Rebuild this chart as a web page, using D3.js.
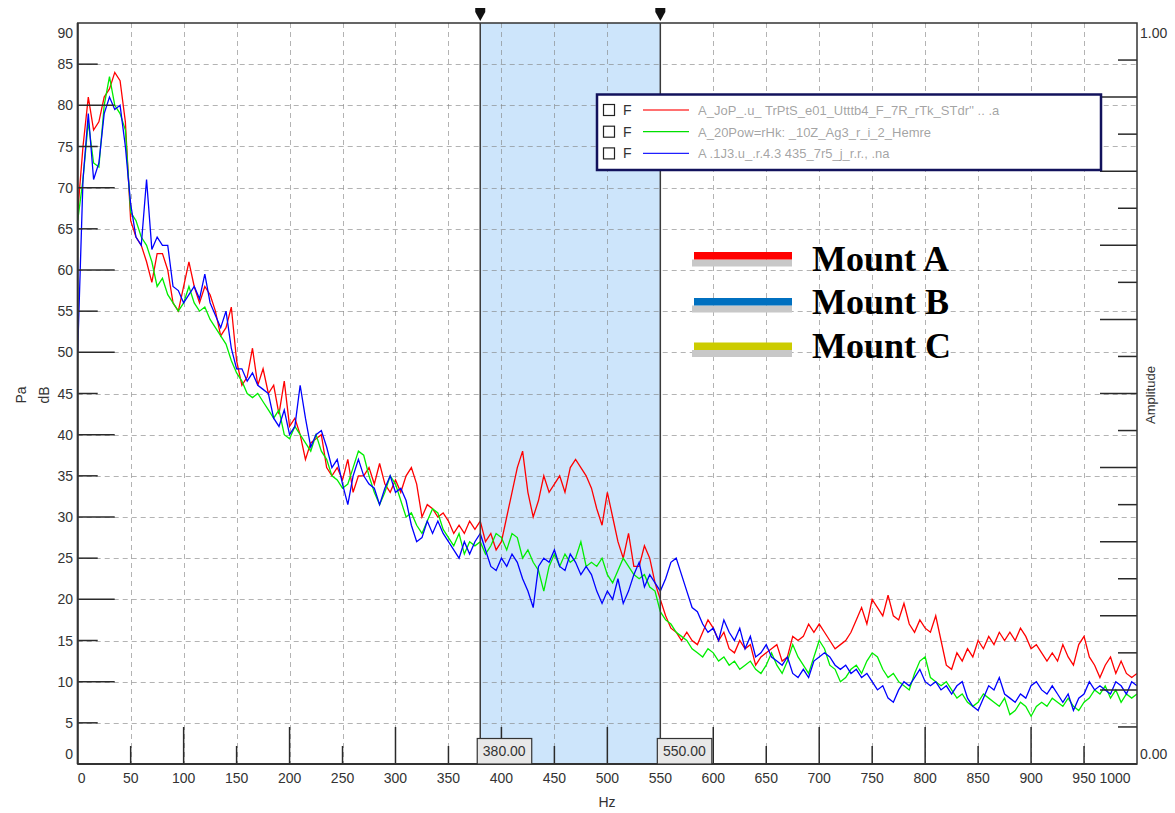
<!DOCTYPE html>
<html>
<head>
<meta charset="utf-8">
<script src="https://cdn.jsdelivr.net/npm/d3@7"></script>
<style>
body { margin: 0; background: #fff; }
svg { display: block; font-family: "Liberation Sans", Arial, sans-serif; }
</style>
</head>
<body>
<div id="chart"></div>
<script>
// page size and plot frame
let svg_width = 1175;
let svg_height = 813;
let plot_left = 77.7, plot_right = 1137, plot_top = 23, plot_bottom = 764;

// tick values
const hzTicks = [0, 50, 100, 150, 200, 250, 300, 350, 400, 450, 500, 550, 600, 650, 700, 750, 800, 850, 900, 950, 1000];
const dbTicks = [0, 5, 10, 15, 20, 25, 30, 35, 40, 45, 50, 55, 60, 65, 70, 75, 80, 85, 90];
const ampTicks = [0, 0.05, 0.1, 0.15, 0.2, 0.25, 0.3, 0.35, 0.4, 0.45, 0.5, 0.55, 0.6, 0.65, 0.7, 0.75, 0.8, 0.85, 0.9, 0.95, 1];
const ampLabels = ["0.00", "1.00"];

// cursors
const cursorHz = [380, 550];
const cursorLabels = ["380.00", "550.00"];

// spectra, one value every 5 Hz from 0 to 1000 Hz (dB)
const hzStep = 5;
const traceRed = [
  67, 75, 81, 77, 78, 81, 82, 84, 83, 78, 66, 64, 63, 61, 58.5, 62, 62, 60, 56, 55,
  58, 61, 58, 56, 58, 57, 55, 52, 53, 55.5, 49, 46, 47, 50.5, 46, 48, 45, 46, 42.5, 46.5,
  41, 42, 40, 37, 39, 39.5, 40, 36, 35, 36, 34.5, 37, 33, 35, 35, 36, 34, 36.5, 34, 33,
  34.5, 33, 35, 36, 34, 30, 31.5, 31, 30, 30.5, 29.5, 28, 29, 28, 29.5, 28.5, 29.5, 27, 28, 26,
  27, 30, 33, 36, 38, 33, 30, 32, 35, 33, 34, 35, 33, 36, 37, 36, 35, 33.5, 31, 29,
  33, 30, 27, 25, 28, 24, 24, 26.5, 25, 22, 20, 18, 16.5, 16, 15, 16, 15, 14.5, 16, 17.5,
  16.5, 15, 16, 14, 13.5, 15, 14, 14.5, 12, 13, 13.5, 14, 14.5, 12.5, 13, 15.5, 15, 15.5, 17, 16,
  17, 16, 15, 14, 14.5, 15, 16, 17.5, 19, 17, 20, 19, 18, 20.5, 18, 17.5, 19.5, 17, 16, 17.5,
  16.5, 16, 18, 15, 12, 11.5, 13.5, 12.5, 14, 13, 15, 14, 15.5, 14.5, 16, 15, 16, 15, 16.5, 15.5,
  14, 14.5, 13.5, 12.5, 13.5, 12.5, 14.5, 13, 12, 14.5, 15.5, 13, 12, 10.5, 12, 13, 11, 12.5, 11, 10.5,
  11
];
const traceGreen = [
  66, 71, 78, 73, 72.5, 80, 83.5, 80, 79, 77, 67, 66, 64, 63, 61, 58, 59, 57, 56, 55,
  56, 58, 56, 55, 55.5, 54, 53, 52, 51, 49, 47.5, 46.5, 45, 44.5, 45, 44, 43, 42, 43, 40,
  39.5, 41, 40, 39, 38, 40, 38, 37, 35, 34.5, 33.5, 34, 36, 38, 37.5, 35, 33, 31.5, 33, 35,
  34, 32, 30, 30.5, 29, 28, 29.5, 31, 30.5, 28.5, 27.5, 26.5, 28, 25.5, 27, 26.5, 27, 25.5, 26.5, 28,
  27.5, 26, 28, 27.5, 25, 26, 24.5, 23.5, 21, 24, 25.5, 24, 25.5, 24.5, 25, 27, 24, 24.5, 24, 25,
  23, 22, 23.5, 25, 24, 23, 22.5, 23, 21.5, 21, 18.5, 17.5, 17, 16, 15.5, 15, 14, 13.5, 13, 14,
  13.5, 12.5, 13, 12, 12.5, 11.5, 12, 12.5, 11.5, 11, 12, 13.5, 12, 11, 12.5, 14.5, 13, 12, 11, 13,
  15, 14, 12, 11.5, 10, 10.5, 11.5, 12, 11, 12.5, 13.5, 13, 11.5, 10.5, 11, 10, 9.5, 9, 11, 12.5,
  13, 10.5, 10, 9.5, 10, 9, 8, 8.5, 7.5, 7, 7.5, 8.5, 8, 7.5, 7, 8, 6, 6.5, 7.5, 7,
  5.8, 7, 7.5, 7, 8, 7.5, 7, 8, 7, 6.5, 7.5, 8, 9, 8.5, 9.5, 8, 9, 7.5, 8.5, 8,
  8.5
];
const traceBlue = [
  50, 71, 79, 71, 73, 79, 81, 79.5, 80, 75, 68, 64, 63, 71, 62.5, 64, 63, 63, 58, 57.5,
  56, 57, 58, 56.5, 59.5, 56, 54.5, 53, 55, 50.5, 48, 48, 46.5, 47.5, 46, 45.5, 45, 42, 41, 43,
  40, 41, 46, 42, 38.5, 40, 40.5, 38.5, 36, 37, 34, 31.5, 35, 37, 35, 34, 33.5, 31.5, 33.5, 35,
  33, 33.5, 32, 29, 27, 27.5, 29.5, 28, 29.5, 28, 27, 26, 25, 27, 25.5, 27, 28, 26, 24, 23.5,
  25, 24, 25.5, 24.5, 22.5, 21, 19, 24, 25, 24.5, 26, 24, 23.5, 25.5, 24.5, 23, 24, 23, 21, 19.5,
  21, 20, 22.5, 19.5, 21, 23, 24.5, 21.5, 23, 22, 21, 22.5, 24.5, 25, 23, 21, 19, 18.5, 17, 16,
  16.5, 15, 17.5, 16, 15, 16.5, 14, 15.5, 13, 13.5, 14.5, 13, 12.5, 12, 13, 11, 10.5, 11.5, 10.5, 12.5,
  13, 13.5, 13, 12, 11.5, 12, 11, 11.5, 10.5, 11, 10, 9, 9.5, 8, 7.5, 9, 10, 9.5, 10.5, 11.5,
  10, 9.5, 10, 9, 9.5, 8.5, 9.5, 10, 8, 7, 6.5, 8, 9.5, 9, 10.5, 8.5, 8, 7.5, 8.5, 8,
  9.5, 10, 9, 8.5, 9.5, 8.5, 7.5, 8.5, 6.5, 8, 8.5, 10, 9, 9.5, 9, 8.5, 10, 9.5, 8.5, 10,
  9.5
];

// legend texts
const boxLegendNames = [
  "A_JoP_.u_  TrPtS_e01_Utttb4_F_7R_rTk_STdr''  ..  .a",
  "A_20Pow=rHk:  _10Z_Ag3_r_i_2_Hemre",
  "A  .1J3.u_.r.4.3  435_7r5_j_r.r.,    .na"
];
const mountNames = ["Mount A", "Mount B", "Mount C"];

// scales
let x_scale = d3.scaleLinear().domain([0, 1000]).range([plot_left, plot_right]);
let y_scale = d3.scaleLinear().domain([0, 90]).range([plot_bottom, plot_top]);
let amp_scale = d3.scaleLinear().domain([0, 1]).range([plot_bottom, plot_top]);

let svg = d3.select('#chart')
            .append('svg')
            .attr('width', svg_width)
            .attr('height', svg_height);

svg.append('rect').attr('width', svg_width).attr('height', svg_height).attr('fill', '#fff');

// cursor band
svg.append('rect')
   .attr('x', x_scale(cursorHz[0]))
   .attr('y', plot_top)
   .attr('width', x_scale(cursorHz[1]) - x_scale(cursorHz[0]))
   .attr('height', plot_bottom - plot_top)
   .attr('fill', '#cde5fb');

// grid
let grid = svg.append('g').attr('stroke', '#808080').attr('stroke-opacity', 0.6)
              .attr('stroke-dasharray', '5,4').attr('stroke-width', 1);
grid.selectAll('.vg')
    .data(hzTicks.filter(d => d > 0 && d < 1000))
    .enter().append('line')
    .attr('x1', d => Math.round(x_scale(d)) + 0.5).attr('x2', d => Math.round(x_scale(d)) + 0.5)
    .attr('y1', plot_top).attr('y2', plot_bottom);
grid.selectAll('.hg')
    .data(dbTicks.filter(d => d > 0 && d < 90))
    .enter().append('line')
    .attr('x1', plot_left).attr('x2', plot_right)
    .attr('y1', d => Math.round(y_scale(d)) + 0.5).attr('y2', d => Math.round(y_scale(d)) + 0.5);

// traces
svg.append('clipPath').attr('id', 'clip')
   .append('rect').attr('x', plot_left).attr('y', plot_top)
   .attr('width', plot_right - plot_left).attr('height', plot_bottom - plot_top);

let line = d3.line()
             .x((d, i) => x_scale(i * hzStep))
             .y(d => y_scale(d));

let traces = [
  { values: traceRed, color: '#ff0000' },
  { values: traceGreen, color: '#00ee00' },
  { values: traceBlue, color: '#0000ff' }
];
svg.append('g').attr('clip-path', 'url(#clip)')
   .selectAll('path')
   .data(traces)
   .enter().append('path')
   .attr('d', d => line(d.values))
   .attr('fill', 'none')
   .attr('stroke', d => d.color)
   .attr('stroke-width', 1.3)
   .attr('stroke-linejoin', 'miter');

// ticks, inward
let ticks = svg.append('g').attr('stroke', '#2a2a2a').attr('stroke-width', 1.5);
ticks.selectAll('.xt')
     .data(hzTicks.filter(d => d > 0 && d < 1000))
     .enter().append('line')
     .attr('x1', d => x_scale(d)).attr('x2', d => x_scale(d))
     .attr('y1', plot_bottom).attr('y2', d => plot_bottom - (d % 100 === 0 ? 37 : 18));
ticks.selectAll('.yt')
     .data(dbTicks.filter(d => d > 0 && d < 90))
     .enter().append('line')
     .attr('x1', plot_left).attr('x2', d => plot_left + (d % 10 === 0 ? 37 : 20))
     .attr('y1', d => y_scale(d)).attr('y2', d => y_scale(d));
ticks.selectAll('.at')
     .data(ampTicks.filter(d => d > 0 && d < 1))
     .enter().append('line')
     .attr('x1', plot_right).attr('x2', d => plot_right - (Math.round(d * 100) % 10 === 0 ? 37 : 19))
     .attr('y1', d => amp_scale(d)).attr('y2', d => amp_scale(d));

// frame
svg.append('rect')
   .attr('x', plot_left).attr('y', plot_top)
   .attr('width', plot_right - plot_left).attr('height', plot_bottom - plot_top)
   .attr('fill', 'none').attr('stroke', '#333').attr('stroke-width', 1.5);
svg.append('line').attr('x1', plot_left).attr('x2', plot_left)
   .attr('y1', plot_top).attr('y2', plot_bottom).attr('stroke', '#333').attr('stroke-width', 2);
svg.append('line').attr('x1', plot_left).attr('x2', plot_right)
   .attr('y1', plot_bottom).attr('y2', plot_bottom).attr('stroke', '#333').attr('stroke-width', 2);

// cursor lines, markers and boxes
cursorHz.forEach(function(c, i) {
  let cx = x_scale(c);
  svg.append('line').attr('x1', cx).attr('x2', cx).attr('y1', plot_top).attr('y2', plot_bottom)
     .attr('stroke', '#3a3a3a').attr('stroke-width', 1.5);
  svg.append('path')
     .attr('d', `M${cx - 5},8 L${cx + 5},8 L${cx + 5},12 L${cx},21 L${cx - 5},12 Z`)
     .attr('fill', '#111');
  svg.append('rect').attr('x', cx - 3).attr('y', 738.5).attr('width', 54.5).attr('height', 25.5)
     .attr('fill', '#e8e8e8').attr('stroke', '#333').attr('stroke-width', 1.2);
  svg.append('text').attr('x', cx - 3 + 27).attr('y', 756)
     .attr('text-anchor', 'middle').attr('font-size', 14).attr('fill', '#333')
     .text(cursorLabels[i]);
});

// axis labels
let xl = svg.append('g').attr('font-size', 14).attr('fill', '#333');
xl.selectAll('text').data(hzTicks).enter().append('text')
  .attr('x', d => d === 0 ? x_scale(d) + 4 : d === 1000 ? x_scale(d) - 22 : x_scale(d))
  .attr('y', 783)
  .attr('text-anchor', 'middle')
  .text(d => d);
let yl = svg.append('g').attr('font-size', 14).attr('fill', '#333');
yl.selectAll('text').data(dbTicks).enter().append('text')
  .attr('x', 73)
  .attr('y', d => (d === 90 ? y_scale(d) + 10 : d === 0 ? y_scale(d) - 10 : y_scale(d)) + 5)
  .attr('text-anchor', 'end')
  .text(d => d);
svg.append('text').attr('x', 1140).attr('y', amp_scale(1) + 15).attr('font-size', 14).attr('fill', '#333').text(ampLabels[1]);
svg.append('text').attr('x', 1140).attr('y', amp_scale(0) - 5).attr('font-size', 14).attr('fill', '#333').text(ampLabels[0]);

svg.append('text').attr('x', 607).attr('y', 807).attr('text-anchor', 'middle')
   .attr('font-size', 14).attr('fill', '#333').text('Hz');
svg.append('text').attr('transform', 'translate(26,395) rotate(-90)').attr('text-anchor', 'middle')
   .attr('font-size', 14).attr('fill', '#333').text('Pa');
svg.append('text').attr('transform', 'translate(49,395) rotate(-90)').attr('text-anchor', 'middle')
   .attr('font-size', 14).attr('fill', '#333').text('dB');
svg.append('text').attr('transform', 'translate(1155,395) rotate(-90)').attr('text-anchor', 'middle')
   .attr('font-size', 13).attr('fill', '#333').text('Amplitude');

// box legend
let lg = svg.append('g');
lg.append('rect').attr('x', 597).attr('y', 94.5).attr('width', 504).attr('height', 75.5)
  .attr('fill', '#fff').attr('stroke', '#12125c').attr('stroke-width', 2.5);
let boxColors = ['#ff4040', '#00e000', '#2020ff'];
boxLegendNames.forEach(function(name, i) {
  let ry = 110 + i * 21.7;
  lg.append('rect').attr('x', 603.5).attr('y', ry - 5.5).attr('width', 11).attr('height', 11)
    .attr('fill', '#fff').attr('stroke', '#222').attr('stroke-width', 1.2);
  lg.append('text').attr('x', 623).attr('y', ry + 5).attr('font-size', 14).attr('fill', '#333').text('F');
  lg.append('line').attr('x1', 643).attr('x2', 689).attr('y1', ry).attr('y2', ry)
    .attr('stroke', boxColors[i]).attr('stroke-width', 1.3);
  lg.append('text').attr('x', 698).attr('y', ry + 5).attr('font-size', 13)
    .attr('fill', '#555').attr('fill-opacity', 0.55).text(name);
});

// mount legend
let mountColors = ['#ff0000', '#0070c0', '#cccc00'];
let mountY = [252, 298, 342.5];
let mountBase = [271, 314, 358];
mountNames.forEach(function(name, i) {
  svg.append('rect').attr('x', 692).attr('y', mountY[i] + 7.5).attr('width', 100).attr('height', 7)
     .attr('fill', '#c8c8c8');
  svg.append('rect').attr('x', 694).attr('y', mountY[i]).attr('width', 98).attr('height', 7.5)
     .attr('fill', mountColors[i]);
  svg.append('text').attr('x', 812).attr('y', mountBase[i])
     .attr('font-family', '"Liberation Serif", "Times New Roman", serif')
     .attr('font-weight', 'bold').attr('font-size', 36).attr('fill', '#000')
     .text(name);
});
</script>
</body>
</html>
